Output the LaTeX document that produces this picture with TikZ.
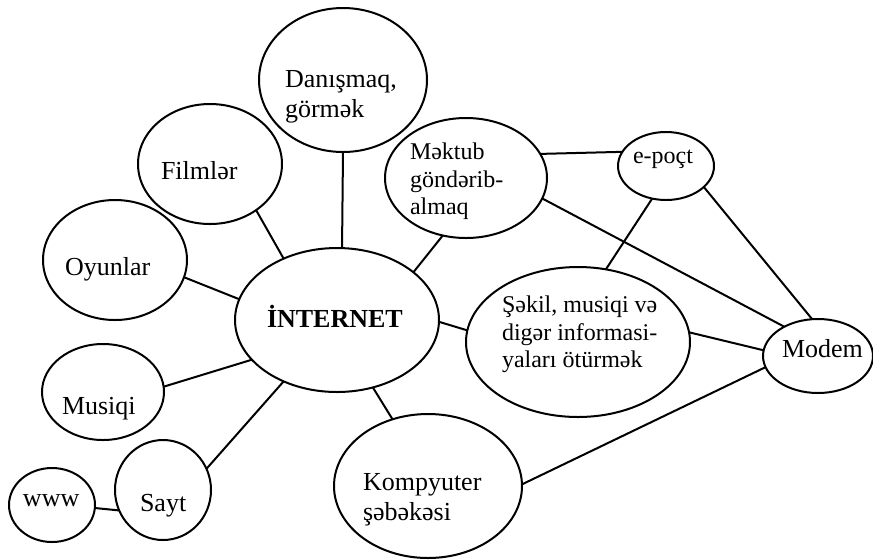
\documentclass[tikz,border=0pt]{standalone}
\usepackage{fontspec}
\setmainfont{Liberation Serif}
\usetikzlibrary{shapes.geometric}

% one drawing unit is half a point; bubble takes the two radii in units
\tikzset{
  bubble/.style 2 args={draw, ellipse, line width=1pt, inner sep=0pt, outer sep=0pt,
    minimum width=#1pt, minimum height=#2pt},
  link/.style={line width=1pt},
  txt/.style={anchor=base west, inner sep=0pt, outer sep=0pt,
    font=\fontsize{13}{15}\selectfont},
  smalltxt/.style={txt, font=\fontsize{12}{14}\selectfont}
}

\begin{document}
\begin{tikzpicture}[x=0.5pt,y=-0.5pt]
\useasboundingbox (0,0) rectangle (873,559);

% ellipses
\node[bubble={84}{72}]  (dan)   at (343,80)  {};
\node[bubble={72}{60}]  (film)  at (210,164) {};
\node[bubble={72}{60}]  (oyun)  at (115,260) {};
\node[bubble={81}{60}]  (mek)   at (466,178) {};
\node[bubble={48}{34}]  (epo)   at (666,166) {};
\node[bubble={102}{72}] (inet)  at (337,320) {};
\node[bubble={112}{75}] (sek)   at (578,342) {};
\node[bubble={55}{37}]  (modem) at (818,356) {};
\node[bubble={61}{48}]  (mus)   at (103,392) {};
\node[bubble={48}{50}]  (sayt)  at (163,490) {};
\node[bubble={43}{37}]  (www)   at (52,505)  {};
\node[bubble={94}{72}]  (komp)  at (428,486) {};

% labels
\node[txt] (t-dan1) at (285,87)  {Danışmaq,};
\node[txt] (t-dan2) at (285,117) {görmək};
\node[txt] (t-film) at (161,179) {Filmlər};
\node[txt] (t-oyun) at (65,275)  {Oyunlar};
\node[smalltxt] (t-mek1) at (410,159) {Məktub};
\node[smalltxt] (t-mek2) at (410,187) {göndərib-};
\node[smalltxt] (t-mek3) at (410,214) {almaq};
\node[smalltxt] (t-epo)  at (633,163) {e-poçt};
\node[smalltxt] (t-sek1) at (502,312) {Şəkil, musiqi və};
\node[smalltxt] (t-sek2) at (502,340) {digər informasi-};
\node[smalltxt] (t-sek3) at (502,367) {yaları ötürmək};
\node[txt] (t-modem) at (782,357) {Modem};
\node[txt, font=\fontsize{13}{15}\selectfont\bfseries] (t-inet) at (267,327) {İNTERNET};
\node[txt] (t-mus)  at (62,414)  {Musiqi};
\node[txt] (t-sayt) at (140,511) {Sayt};
\node[txt] (t-www)  at (23,506)  {www};
\node[txt] (t-komp1) at (363,490) {Kompyuter};
\node[txt] (t-komp2) at (363,520) {şəbəkəsi};

% connectors
\draw[link] (inet.86)   -- (dan.-90);
\draw[link] (inet.131)  -- (film.-45);
\draw[link] (inet.168)  -- (oyun.-14);
\draw[link] (inet.32)   -- (mek.-112);
\draw[link] (mek.18)    -- (epo.162);
\draw[link] (mek.-15)   -- (modem.139);
\draw[link] (epo.-113)  -- (sek.69);
\draw[link] (epo.-29)   -- (modem.99);
\draw[link] (inet.-1)   -- (sek.174);
\draw[link] (sek.5)     -- (modem.174);
\draw[link] (inet.-62)  -- (komp.118);
\draw[link] (komp.1)    -- (modem.192);
\draw[link] (inet.205)  -- (mus.5);
\draw[link] (inet.-131) -- (sayt.26);
\draw[link] (sayt.205)  -- (www.-4);
\end{tikzpicture}
\end{document}
